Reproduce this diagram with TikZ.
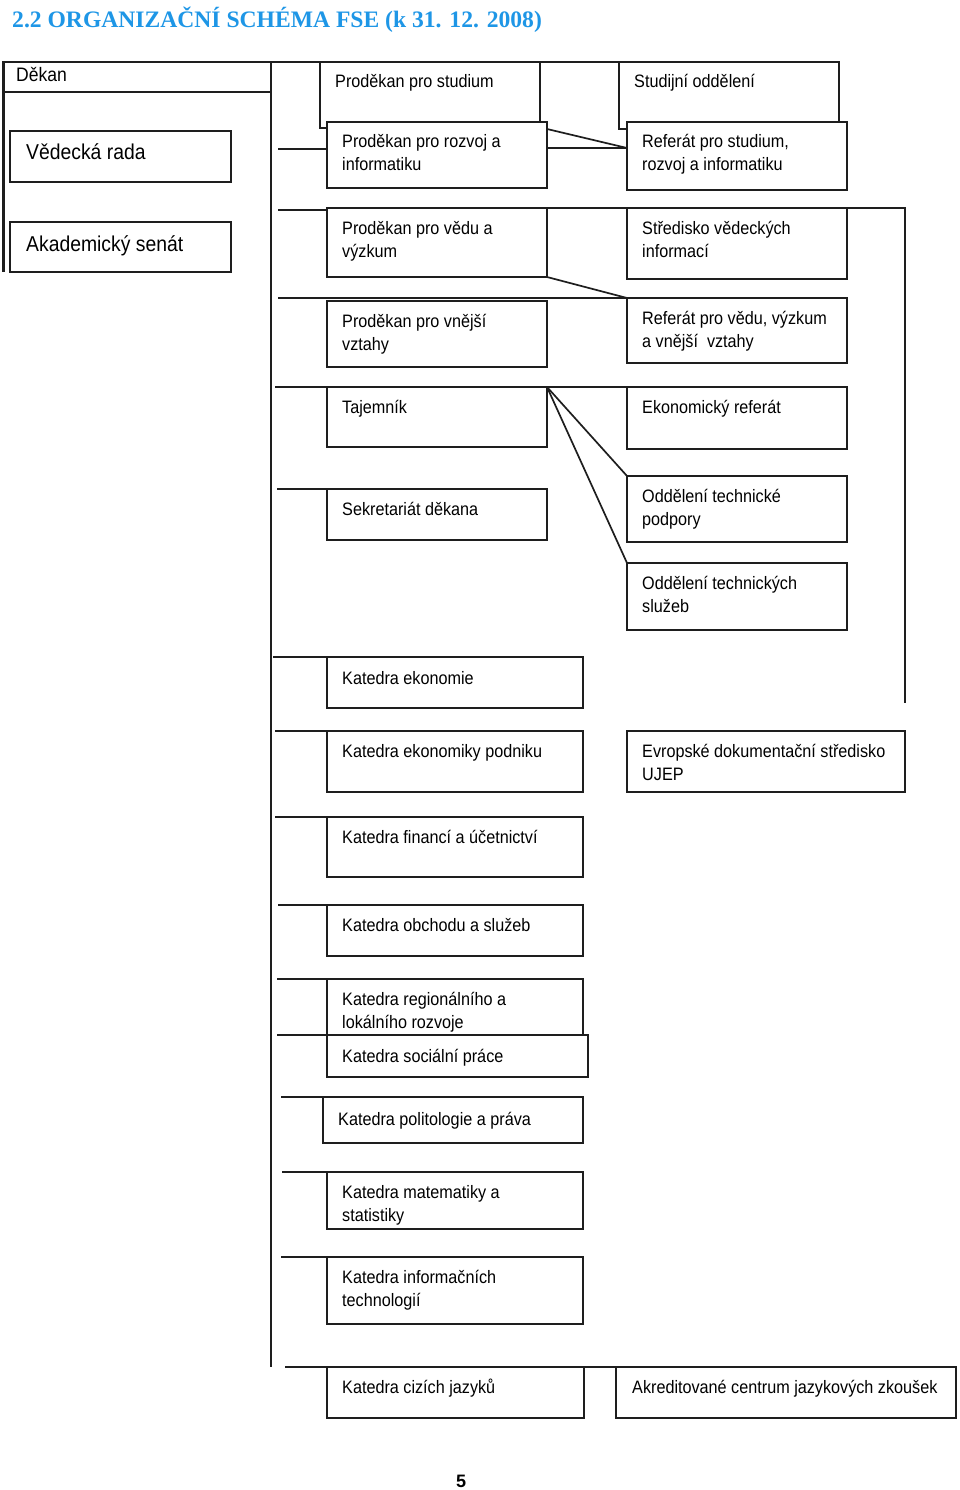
\documentclass[tikz,border=0pt]{standalone}
\usepackage{fontspec}
\setmainfont{Liberation Sans}[FakeStretch=0.9]
\newfontfamily\titlefont{Liberation Serif}
\newfontfamily\plainsans{Liberation Sans}
\definecolor{titleblue}{RGB}{30,150,230}
\definecolor{linegray}{RGB}{30,30,30}
\newcommand{\mytwo}[2]{\begin{tabular}[t]{@{}l@{}}#1\\#2\end{tabular}}
\newcommand{\mkbox}[5]{\node[box, minimum width={(#4-#2)*1pt}, minimum height={(#5-#3)*1pt}] (#1) at (#2,#3) {};}
\tikzset{
  box/.style={draw=linegray, line width=1.7pt, fill=white, anchor=north west, inner sep=0pt, outer sep=0pt, rectangle},
  lbl/.style={anchor=base west, inner sep=0pt, font=\fontsize{18}{23}\selectfont, text=black},
  biglbl/.style={anchor=base west, inner sep=0pt, font=\fontsize{21.5}{24}\selectfont, text=black},
  conn/.style={draw=linegray, line width=1.7pt},
}
\begin{document}
\begin{tikzpicture}[x=1pt,y=-1pt]
\useasboundingbox (0,0) rectangle (960,1490);
% title
\node[anchor=base west, inner sep=0pt, font=\titlefont\bfseries\fontsize{23.6}{28}\selectfont, text=titleblue] (title) at (12,28) {2.2 ORGANIZAČNÍ SCHÉMA FSE (k 31. 12. 2008)};
% coordinates
\coordinate (lbend) at (3,272);
\coordinate (trunkend) at (271,1367);
\coordinate (rtop) at (905,208);
\coordinate (rbot) at (905,703);
\coordinate (s-pri) at (278,149);
\coordinate (s-pvv) at (278,210);
\coordinate (s-rvv) at (278,298);
\coordinate (s-taj) at (275,387);
\coordinate (s-sek) at (277,489);
\coordinate (s-ke) at (273,657);
\coordinate (s-kep) at (275,731);
\coordinate (s-kfu) at (275,817);
\coordinate (s-kos) at (278,905);
\coordinate (s-krl) at (277,979);
\coordinate (s-ksp) at (277,1035);
\coordinate (s-kpp) at (281,1097);
\coordinate (s-kms) at (282,1172);
\coordinate (s-kit) at (281,1257);
\coordinate (s-kcj) at (285,1367);
% Dekan box
\mkbox{dekan}{3}{62}{271}{92}
% left column
\mkbox{vr}{10}{131}{231}{182}
\mkbox{as}{10}{222}{231}{272}
% middle column
\mkbox{ps}{320}{62}{540}{128}
\mkbox{pri}{327}{122}{547}{188}
\mkbox{pvv}{327}{208}{547}{277}
\mkbox{pvz}{327}{301}{547}{367}
\mkbox{taj}{327}{387}{547}{447}
\mkbox{sek}{327}{489}{547}{540}
% right column
\mkbox{so}{619}{62}{839}{129}
\mkbox{rsri}{627}{122}{847}{190}
\mkbox{svi}{627}{208}{847}{279}
\mkbox{rvv}{627}{298}{847}{363}
\mkbox{er}{627}{387}{847}{449}
\mkbox{otp}{627}{476}{847}{542}
\mkbox{ots}{627}{563}{847}{630}
\mkbox{eds}{627}{731}{905}{792}
% departments
\mkbox{ke}{327}{657}{583}{708}
\mkbox{kep}{327}{731}{583}{792}
\mkbox{kfu}{327}{817}{583}{877}
\mkbox{kos}{327}{905}{583}{956}
\mkbox{krl}{327}{979}{583}{1035}
\mkbox{ksp}{327}{1035}{588}{1077}
\mkbox{kpp}{323}{1097}{583}{1143}
\mkbox{kms}{327}{1172}{583}{1229}
\mkbox{kit}{327}{1257}{583}{1324}
\mkbox{kcj}{327}{1367}{584}{1418}
\mkbox{acjz}{616}{1367}{956}{1418}
% connectors
\draw[conn] (dekan.north west) -- (so.north east);
\draw[conn, line width=3pt] (dekan.north west) -- (lbend);
\draw[conn, line width=2pt] (dekan.north east) -- (trunkend);
\draw[conn] (s-pri) -- (s-pri -| pri.west);
\draw[conn] ([shift={(0,7)}]pri.north east) -- ([shift={(0,26)}]rsri.north west);
\draw[conn] ([shift={(0,26)}]pri.north east) -- ([shift={(0,26)}]rsri.north west);
\draw[conn] (s-pvv) -- (s-pvv -| pvv.west);
\draw[conn] (pvv.north east) -- (rtop) -- (rbot);
\draw[conn] (pvv.south east) -- (rvv.north west);
\draw[conn] (s-rvv) -- (rvv.north west);
\draw[conn] (s-taj) -- (er.north west);
\draw[conn] (taj.north east) -- (otp.north west);
\draw[conn] (taj.north east) -- (ots.north west);
\draw[conn] (s-sek) -- (sek.north west);
\draw[conn] (s-ke) -- (ke.north west);
\draw[conn] (s-kep) -- (kep.north west);
\draw[conn] (s-kfu) -- (kfu.north west);
\draw[conn] (s-kos) -- (kos.north west);
\draw[conn] (s-krl) -- (krl.north west);
\draw[conn] (s-ksp) -- (ksp.north west);
\draw[conn] (s-kpp) -- (kpp.north west);
\draw[conn] (s-kms) -- (kms.north west);
\draw[conn] (s-kit) -- (kit.north west);
\draw[conn] (s-kcj) -- (acjz.north east);
% texts
\node[lbl, font=\fontsize{19.5}{23}\selectfont] (t-dekan) at ([shift={(13,20)}]dekan.north west) {Děkan};
\node[biglbl] (t-vr) at ([shift={(16,29)}]vr.north west) {Vědecká rada};
\node[biglbl] (t-as) at ([shift={(16,29)}]as.north west) {Akademický senát};
\node[lbl] (t-ps) at ([shift={(15,26)}]ps.north west) {Proděkan pro studium};
\node[lbl] (t-pri) at ([shift={(15,26)}]pri.north west) {\mytwo{Proděkan pro rozvoj a}{informatiku}};
\node[lbl] (t-pvv) at ([shift={(15,26)}]pvv.north west) {\mytwo{Proděkan pro vědu a}{výzkum}};
\node[lbl] (t-pvz) at ([shift={(15,26)}]pvz.north west) {\mytwo{Proděkan pro vnější}{vztahy}};
\node[lbl] (t-taj) at ([shift={(15,26)}]taj.north west) {Tajemník};
\node[lbl] (t-sek) at ([shift={(15,26)}]sek.north west) {Sekretariát děkana};
\node[lbl] (t-so) at ([shift={(15,26)}]so.north west) {Studijní oddělení};
\node[lbl] (t-rsri) at ([shift={(15,26)}]rsri.north west) {\mytwo{Referát pro studium,}{rozvoj a informatiku}};
\node[lbl] (t-svi) at ([shift={(15,26)}]svi.north west) {\mytwo{Středisko vědeckých}{informací}};
\node[lbl] (t-rvv) at ([shift={(15,26)}]rvv.north west) {\mytwo{Referát pro vědu, výzkum}{a vnější~ vztahy}};
\node[lbl] (t-er) at ([shift={(15,26)}]er.north west) {Ekonomický referát};
\node[lbl] (t-otp) at ([shift={(15,26)}]otp.north west) {\mytwo{Oddělení technické}{podpory}};
\node[lbl] (t-ots) at ([shift={(15,26)}]ots.north west) {\mytwo{Oddělení technických}{služeb}};
\node[lbl] (t-eds) at ([shift={(15,26)}]eds.north west) {\mytwo{Evropské dokumentační středisko}{UJEP}};
\node[lbl] (t-ke) at ([shift={(15,27)}]ke.north west) {Katedra ekonomie};
\node[lbl] (t-kep) at ([shift={(15,26)}]kep.north west) {Katedra ekonomiky podniku};
\node[lbl] (t-kfu) at ([shift={(15,26)}]kfu.north west) {Katedra financí a účetnictví};
\node[lbl] (t-kos) at ([shift={(15,26)}]kos.north west) {Katedra obchodu a služeb};
\node[lbl] (t-krl) at ([shift={(15,26)}]krl.north west) {\mytwo{Katedra regionálního a}{lokálního rozvoje}};
\node[lbl] (t-ksp) at ([shift={(15,27)}]ksp.north west) {Katedra sociální práce};
\node[lbl] (t-kpp) at ([shift={(15,28)}]kpp.north west) {Katedra politologie a práva};
\node[lbl] (t-kms) at ([shift={(15,26)}]kms.north west) {\mytwo{Katedra matematiky a}{statistiky}};
\node[lbl] (t-kit) at ([shift={(15,26)}]kit.north west) {\mytwo{Katedra informačních}{technologií}};
\node[lbl] (t-kcj) at ([shift={(15,26)}]kcj.north west) {Katedra cizích jazyků};
\node[lbl] (t-acjz) at ([shift={(16,26)}]acjz.north west) {Akreditované centrum jazykových zkoušek};
% page number
\node[anchor=base, inner sep=0pt, font=\plainsans\bfseries\fontsize{18}{20}\selectfont] (pg) at (461,1487) {5};
\end{tikzpicture}
\end{document}
